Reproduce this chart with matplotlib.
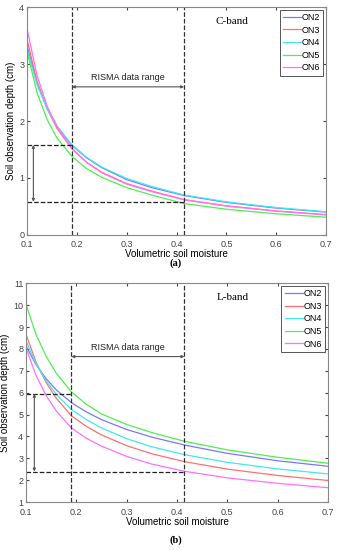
import matplotlib
matplotlib.use('Agg')
import matplotlib.pyplot as plt

plt.rcParams['font.family'] = ['Liberation Sans', 'DejaVu Sans']

x = [0.1, 0.12, 0.14, 0.16, 0.19, 0.22, 0.25, 0.3, 0.35, 0.415, 0.5, 0.6, 0.7]
stations = ['ON2', 'ON3', 'ON4', 'ON5', 'ON6']
colors = ['#7878ff', '#ff7070', '#40e8f0', '#50ee50', '#ff70ff']

# C-band observation depth (cm)
c_on2 = [3.32, 2.67, 2.23, 1.91, 1.57, 1.35, 1.18, 0.97, 0.83, 0.69, 0.57, 0.47, 0.40]
c_on3 = [3.43, 2.70, 2.22, 1.87, 1.51, 1.27, 1.10, 0.90, 0.77, 0.62, 0.51, 0.42, 0.355]
c_on4 = [3.26, 2.64, 2.22, 1.91, 1.58, 1.36, 1.19, 0.99, 0.85, 0.70, 0.58, 0.48, 0.405]
c_on5 = [3.22, 2.50, 2.03, 1.70, 1.38, 1.16, 1.01, 0.83, 0.70, 0.55, 0.45, 0.37, 0.31]
c_on6 = [3.62, 2.80, 2.27, 1.90, 1.52, 1.27, 1.09, 0.89, 0.76, 0.615, 0.505, 0.415, 0.35]

# L-band observation depth (cm)
l_on2 = [8.13, 7.28, 6.64, 6.13, 5.55, 5.12, 4.77, 4.32, 3.97, 3.61, 3.23, 2.89, 2.64]
l_on3 = [8.66, 7.39, 6.46, 5.75, 4.95, 4.46, 4.07, 3.58, 3.21, 2.85, 2.51, 2.22, 1.99]
l_on4 = [8.36, 7.32, 6.54, 5.93, 5.24, 4.77, 4.39, 3.90, 3.53, 3.17, 2.82, 2.52, 2.29]
l_on5 = [10.03, 8.65, 7.66, 6.90, 6.04, 5.47, 5.03, 4.55, 4.18, 3.78, 3.39, 3.05, 2.78]
l_on6 = [8.05, 6.78, 5.87, 5.17, 4.39, 3.92, 3.56, 3.09, 2.74, 2.41, 2.11, 1.86, 1.66]

risma = [0.19, 0.415]
c_marks = [1.58, 0.58]
l_marks = [5.95, 2.4]

fig = plt.figure(figsize=(3.38, 5.5), dpi=100)
ax1 = fig.add_axes([0.080, 0.573, 0.885, 0.414])
ax2 = fig.add_axes([0.077, 0.087, 0.893, 0.398])


def panel(ax, series, ylim, yticks, marks, band, band_y, arrow_y, arrow_x):
    for s, c, n in zip(series, colors, stations):
        ax.plot(x, s, color=c, lw=0.9, label=n)
    ax.set_xlim(0.1, 0.7)
    ax.set_ylim(*ylim)
    ax.set_xticks([0.1, 0.2, 0.3, 0.4, 0.5, 0.6, 0.7])
    ax.set_xticklabels(['0.1', '0.2', '0.3', '0.4', '0.5', '0.6', '0.7'])
    ax.set_yticks(yticks)
    ax.tick_params(direction='in', length=2.5, labelsize=6.5, colors='#444444',
                   top=True, right=True, pad=2)
    ax.tick_params(axis='x', pad=4)
    for sp in ax.spines.values():
        sp.set_color('#888888')
        sp.set_linewidth(0.8)
    for xv in risma:
        ax.axvline(xv, color='#333333', ls='--', lw=0.9)
    ax.plot([0.1, risma[0]], [marks[0], marks[0]], color='#222222', ls='--', lw=0.9)
    ax.plot([0.1, risma[1]], [marks[1], marks[1]], color='#222222', ls='--', lw=0.9)
    ax.annotate('', xy=(arrow_x, marks[1]), xytext=(arrow_x, marks[0]),
                arrowprops=dict(arrowstyle='<|-|>', color='#555555', lw=0.8,
                                mutation_scale=4, shrinkA=0, shrinkB=0))
    ax.annotate('', xy=(risma[1], arrow_y), xytext=(risma[0], arrow_y),
                arrowprops=dict(arrowstyle='<|-|>', color='#555555', lw=0.8,
                                mutation_scale=4, shrinkA=0, shrinkB=0))
    ax.text(sum(risma) / 2, arrow_y + (ylim[1] - ylim[0]) * 0.02, 'RISMA data range',
            ha='center', va='bottom', fontsize=6.5, color='#222222')
    ax.text(0.51, band_y, band, ha='center', va='center', fontsize=8,
            family=['Liberation Serif', 'DejaVu Serif'])
    ax.set_xlabel('Volumetric soil moisture', fontsize=7, labelpad=0)
    ax.set_ylabel('Soil observation depth (cm)', fontsize=7, labelpad=2)
    leg = ax.legend(loc='upper right', fontsize=6.5, handlelength=2.0,
                    handletextpad=0.1, borderpad=0.35, labelspacing=0.4,
                    fancybox=False, framealpha=1, borderaxespad=0.3)
    leg.get_frame().set_edgecolor('#555555')
    leg.get_frame().set_linewidth(0.7)


panel(ax1, [c_on2, c_on3, c_on4, c_on5, c_on6], (0, 4), [0, 1, 2, 3, 4],
      c_marks, 'C-band', 3.75, 2.6, 0.1127)
panel(ax2, [l_on2, l_on3, l_on4, l_on5, l_on6], (1, 11), list(range(1, 12)),
      l_marks, 'L-band', 10.36, 7.65, 0.1165)

fig.text(0.52, 0.521, '(a)', ha='center', va='center', fontsize=7.5,
         fontweight='bold', family=['Liberation Serif', 'DejaVu Serif'])
fig.text(0.52, 0.018, '(b)', ha='center', va='center', fontsize=7.5,
         fontweight='bold', family=['Liberation Serif', 'DejaVu Serif'])

fig.savefig('out.png', dpi=100)
